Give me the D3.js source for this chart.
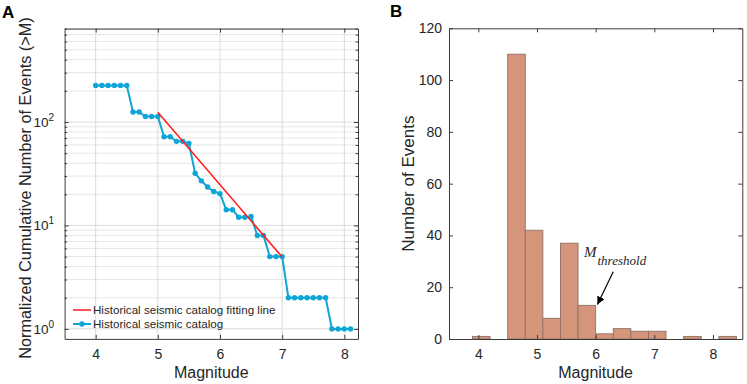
<!DOCTYPE html>
<html><head><meta charset="utf-8">
<script src="https://cdn.jsdelivr.net/npm/d3@7/dist/d3.min.js"></script>
<style>body{margin:0;background:#fff}svg{display:block}text{font-family:Arial,"Liberation Sans",sans-serif;fill:#262626}</style>
</head><body><svg id="c" width="747" height="384"></svg>
<script>
// ---- Panel A data ----
const magnitudes = [4.0,4.1,4.2,4.3,4.4,4.5,4.6,4.7,4.8,4.9,5.0,5.1,5.2,5.3,5.4,5.5,5.6,5.7,5.8,5.9,6.0,6.1,6.2,6.3,6.4,6.5,6.6,6.7,6.8,6.9,7.0,7.1,7.2,7.3,7.4,7.5,7.6,7.7,7.8,7.9,8.0,8.1];
const cumulativeEvents = [226,226,226,226,226,226,125,125,113,113,113,72,72,65,65,62,32,27,23.5,21.3,20.3,14.2,14.2,12,12,12.2,8,8,5,5,5,2,2,2,2,2,2,2,1,1,1,1];
const fitMagnitudes = [5.0,7.0];
const fitEvents = [124,4.95];
const xTicksA = [4,5,6,7,8];
const yTicksA = [1,10,100];
const yTickExpA = ["0","1","2"];
// ---- Panel B data ----
const binStarts = [3.9,4.2,4.5,4.8,5.1,5.4,5.7,6.0,6.3,6.6,6.9,7.2,7.5,7.8,8.1];
const binCounts = [1,0,110,42,8,37,13,2,4,3,3,0,1,0,1];
const binWidth = 0.3;
const xTicksB = [4,5,6,7,8];
const yTicksB = [0,20,40,60,80,100,120];

const svg = d3.select("#c");
const axisCol = "#3c3c3c";

// ================= Panel A =================
const xA = d3.scaleLinear().domain([3.5,8.22]).range([64.6,358]);
const yA = d3.scaleLog().domain([0.8,800]).range([338.9,28.6]);
const gA = svg.append("g");
const minorA = [];
[1,10,100].forEach(d=>{for(let k=2;k<=9;k++){const v=d*k; if(v<=800) minorA.push(v);}});
// grid
gA.selectAll(".gm").data(minorA).enter().append("line")
  .attr("x1",xA.range()[0]).attr("x2",xA.range()[1])
  .attr("y1",d=>yA(d)).attr("y2",d=>yA(d)).attr("stroke","#e6e6e6").attr("stroke-width",1);
gA.selectAll(".gy").data(yTicksA).enter().append("line")
  .attr("x1",xA.range()[0]).attr("x2",xA.range()[1])
  .attr("y1",d=>yA(d)).attr("y2",d=>yA(d)).attr("stroke","#dadada").attr("stroke-width",1);
gA.selectAll(".gx").data(xTicksA).enter().append("line")
  .attr("x1",d=>xA(d)).attr("x2",d=>xA(d))
  .attr("y1",yA.range()[0]).attr("y2",yA.range()[1]).attr("stroke","#dadada").attr("stroke-width",1);
// axes
const axB = gA.append("g").attr("transform",`translate(0,${yA.range()[0]})`)
  .call(d3.axisBottom(xA).tickValues(xTicksA).tickSizeInner(-4).tickSizeOuter(0).tickPadding(10).tickFormat(d3.format("d")));
gA.append("g").attr("transform",`translate(0,${yA.range()[1]})`)
  .call(d3.axisTop(xA).tickValues(xTicksA).tickSizeInner(-4).tickSizeOuter(0).tickFormat(""));
gA.append("g").attr("transform",`translate(${xA.range()[0]},0)`)
  .call(d3.axisLeft(yA).tickValues(yTicksA).tickSizeInner(-4).tickSizeOuter(0).tickFormat(""));
gA.append("g").attr("transform",`translate(${xA.range()[1]},0)`)
  .call(d3.axisRight(yA).tickValues(yTicksA).tickSizeInner(-4).tickSizeOuter(0).tickFormat(""));
gA.append("g").attr("transform",`translate(${xA.range()[0]},0)`)
  .call(d3.axisLeft(yA).tickValues(minorA).tickSizeInner(-2.5).tickSizeOuter(0).tickFormat("")).select(".domain").remove();
gA.append("g").attr("transform",`translate(${xA.range()[1]},0)`)
  .call(d3.axisRight(yA).tickValues(minorA).tickSizeInner(-2.5).tickSizeOuter(0).tickFormat("")).select(".domain").remove();
gA.selectAll(".domain,.tick line").attr("stroke",axisCol);
axB.selectAll("text").attr("font-size",14).attr("fill","#262626");
// y tick labels with superscripts
yTicksA.forEach((v,i)=>{
  const t = gA.append("text").attr("x",54).attr("y",yA(v)+5).attr("text-anchor","end").attr("font-size",13.5);
  t.append("tspan").text("10");
  t.append("tspan").attr("dy",-6).attr("font-size",10).text(yTickExpA[i]);
});
// lines
const dataLine = d3.line().x(d=>xA(d[0])).y(d=>yA(d[1]));
const pts = magnitudes.map((m,i)=>[m,cumulativeEvents[i]]);
const fitPts = fitMagnitudes.map((m,i)=>[m,fitEvents[i]]);
const blue = "#0fa5d7";
gA.append("path").attr("d",dataLine(pts)).attr("fill","none").attr("stroke",blue).attr("stroke-width",2);
gA.selectAll(".pt").data(pts).enter().append("circle")
  .attr("cx",d=>xA(d[0])).attr("cy",d=>yA(d[1])).attr("r",2.7).attr("fill",blue);
gA.append("path").attr("d",dataLine(fitPts)).attr("fill","none").attr("stroke","#ff1a1a").attr("stroke-width",1.5);
// legend
const legend = gA.append("g");
legend.append("line").attr("x1",73).attr("x2",91).attr("y1",310).attr("y2",310).attr("stroke","#ff1a1a").attr("stroke-width",1.5);
legend.append("text").attr("x",93).attr("y",314).attr("font-size",11.6).text("Historical seismic catalog fitting line");
legend.append("line").attr("x1",73).attr("x2",91).attr("y1",324).attr("y2",324).attr("stroke",blue).attr("stroke-width",2);
legend.append("circle").attr("cx",82).attr("cy",324).attr("r",2.7).attr("fill",blue);
legend.append("text").attr("x",93).attr("y",328).attr("font-size",11.6).text("Historical seismic catalog");
// labels
gA.append("text").attr("x",(xA.range()[0]+xA.range()[1])/2).attr("y",378).attr("text-anchor","middle").attr("font-size",16).text("Magnitude");
gA.append("text").attr("transform",`translate(31,188) rotate(-90)`).attr("text-anchor","middle").attr("font-size",16.3).text("Normalized Cumulative Number of Events (>M)");
svg.append("text").attr("x",2).attr("y",18).attr("font-size",17).attr("font-weight","bold").style("fill","#000").text("A");

// ================= Panel B =================
const xB = d3.scaleLinear().domain([3.5,8.5]).range([449,742.3]);
const yB = d3.scaleLinear().domain([0,120]).range([339,28.3]);
const gB = svg.append("g");
gB.selectAll(".bar").data(binStarts.map((s,i)=>[s,binCounts[i]]).filter(d=>d[1]>0)).enter().append("rect")
  .attr("x",d=>xB(d[0])).attr("width",d=>xB(d[0]+binWidth)-xB(d[0]))
  .attr("y",d=>yB(d[1])).attr("height",d=>yB(0)-yB(d[1]))
  .attr("fill","#d5957b").attr("stroke","#8e7268").attr("stroke-width",0.9);
gB.append("g").attr("transform",`translate(0,${yB.range()[0]})`)
  .call(d3.axisBottom(xB).tickValues(xTicksB).tickSizeInner(-4).tickSizeOuter(0).tickPadding(10).tickFormat(d3.format("d")));
gB.append("g").attr("transform",`translate(0,${yB.range()[1]})`)
  .call(d3.axisTop(xB).tickValues(xTicksB).tickSizeInner(-4).tickSizeOuter(0).tickFormat(""));
gB.append("g").attr("transform",`translate(${xB.range()[0]},0)`)
  .call(d3.axisLeft(yB).tickValues(yTicksB).tickSizeInner(-4).tickSizeOuter(0).tickPadding(7).tickFormat(d3.format("d")));
gB.append("g").attr("transform",`translate(${xB.range()[1]},0)`)
  .call(d3.axisRight(yB).tickValues(yTicksB).tickSizeInner(-4).tickSizeOuter(0).tickFormat(""));
gB.selectAll(".domain,.tick line").attr("stroke",axisCol);
gB.selectAll(".tick text").attr("font-size",14).attr("fill","#262626");
gB.append("text").attr("x",(xB.range()[0]+xB.range()[1])/2).attr("y",378).attr("text-anchor","middle").attr("font-size",16).text("Magnitude");
gB.append("text").attr("transform",`translate(414,${(yB.range()[0]+yB.range()[1])/2}) rotate(-90)`).attr("text-anchor","middle").attr("font-size",17).text("Number of Events");
svg.append("text").attr("x",390).attr("y",17).attr("font-size",17).attr("font-weight","bold").style("fill","#000").text("B");
// annotation
const ann = gB.append("text").attr("x",584).attr("y",257).style("font-family","'Liberation Serif','Times New Roman',serif").style("font-style","italic").attr("font-size",15);
ann.append("tspan").text("M");
ann.append("tspan").attr("dy",8).attr("dx",1).attr("font-size",13).text("threshold");
svg.append("defs").append("marker").attr("id","ah").attr("viewBox","0 0 10 10").attr("refX",10).attr("refY",5)
  .attr("markerWidth",8).attr("markerHeight",8).attr("markerUnits","userSpaceOnUse").attr("orient","auto")
  .append("path").attr("d","M0,0 L10,5 L0,10 z").attr("fill","#000");
gB.append("line").attr("x1",xB(6.3)).attr("y1",yB(26)).attr("x2",xB(6.03)).attr("y2",yB(13.3))
  .attr("stroke","#000").attr("stroke-width",1.2).attr("marker-end","url(#ah)");
</script></body></html>
